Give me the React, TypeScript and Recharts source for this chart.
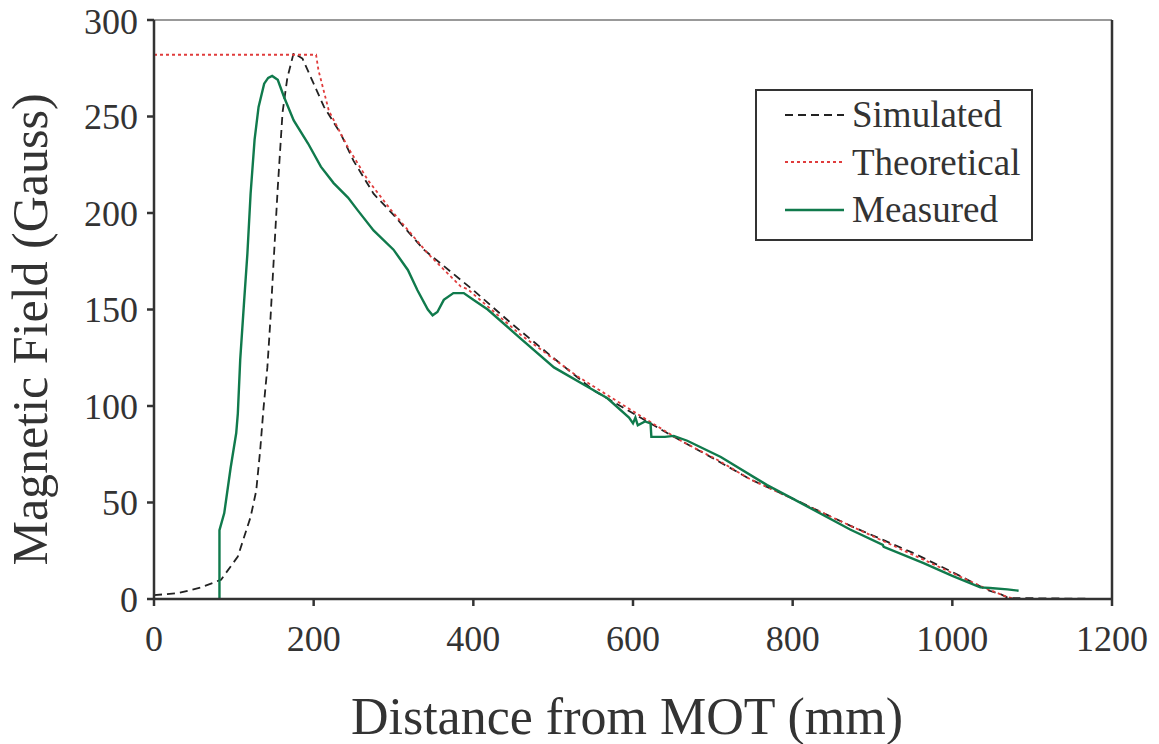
import React from "react";
import {
  LineChart,
  Line,
  XAxis,
  YAxis,
  Legend,
  ReferenceLine,
  Label,
} from "recharts";

// x (mm), field (Gauss)
const simulated: [number, number][] = [
  [0, 2], [30, 3], [59, 6], [84, 10], [105, 22], [121, 42.5], [128, 56],
  [133, 77], [137, 98], [142, 120], [146, 146], [150, 176], [155, 213],
  [161, 252], [167, 270], [175, 283], [186, 280], [200, 267], [213, 255],
  [234, 241], [250, 227], [275, 210], [300, 199], [338, 181], [400, 160],
  [447, 143], [500, 125], [551, 108], [626, 90], [660, 82], [700, 73],
  [747, 62], [800, 52], [872, 38], [950, 24], [1000, 14], [1044, 4.6],
  [1060, 2.6], [1070, 0.5], [1200, 0],
];

const theoretical: [number, number][] = [
  [0, 282], [203, 282], [206, 274], [219, 253], [243, 234], [268, 217],
  [297, 201.5], [343, 179], [384, 162], [393, 160.5], [459, 137],
  [530, 115.5], [605, 96], [660, 82], [706, 72], [747, 62], [768, 58],
  [872, 38], [997, 14], [1039, 6], [1069, 1], [1080, 0], [1200, 0],
];

const measured: [number, number][] = [
  [82, 0], [82, 35.7], [88, 44.5], [96, 68], [103, 86], [105, 96],
  [108, 124], [113, 155], [117, 179], [121, 210], [126, 238], [131, 255],
  [138, 267], [143, 270], [148, 271], [155, 269], [163, 260], [175, 248],
  [193, 236], [209, 224], [225, 215.5], [243, 208], [255, 201.5],
  [275, 191], [300, 181], [318, 170.5], [330, 160], [343, 150], [349, 147],
  [355, 148.7], [363, 155], [375, 158.5], [388, 158.5], [400, 155],
  [418, 150], [459, 135], [501, 120], [543, 110], [568, 104], [595, 94],
  [600, 91], [603, 94], [606, 90], [615, 92], [622, 91], [623, 84],
  [640, 84], [651, 84.5], [668, 82], [710, 73.6], [768, 59], [800, 52],
  [872, 36], [913, 28], [914, 27], [964, 18.6], [1000, 12], [1035, 6],
  [1047, 5.7], [1069, 5], [1083, 4.3],
];

const xTicks = [0, 200, 400, 600, 800, 1000, 1200];
const yTicks = [0, 50, 100, 150, 200, 250, 300];

const series = [
  { name: "Simulated", points: simulated, color: "#222", dash: "8 5", width: 1.8 },
  { name: "Theoretical", points: theoretical, color: "#e03c3c", dash: "3 3", width: 1.8 },
  { name: "Measured", points: measured, color: "#107a4c", dash: undefined, width: 2.4 },
];

const FONT = "'Liberation Serif', 'Times New Roman', serif";
const TEXT = "#333";

function LegendBox() {
  return (
    <div
      style={{
        border: "2.5px solid #333",
        width: 278,
        height: 152,
        boxSizing: "border-box",
        fontFamily: FONT,
        fontSize: 37,
        color: TEXT,
        paddingTop: 0,
      }}
    >
      {series.map((s) => (
        <div key={s.name} style={{ display: "flex", alignItems: "center", height: 47.5 }}>
          <svg width={95} height={10} style={{ flex: "none" }}>
            <line
              x1={28}
              x2={87}
              y1={5}
              y2={5}
              stroke={s.color}
              strokeWidth={s.width}
              strokeDasharray={s.dash}
            />
          </svg>
          <span style={{ lineHeight: 1 }}>{s.name}</span>
        </div>
      ))}
    </div>
  );
}

export default function App() {
  return (
    <div style={{ position: "absolute", left: 0, top: 0, background: "#fff" }}>
      <LineChart
        width={1159}
        height={744}
        margin={{ top: 20, right: 47, bottom: 0, left: 74 }}
      >
        <XAxis
          type="number"
          dataKey="x"
          domain={[0, 1200]}
          ticks={xTicks}
          allowDuplicatedCategory={false}
          height={145}
          stroke="#333"
          strokeWidth={2.5}
          tickSize={7}
          tickMargin={19}
          tick={{ fill: TEXT, fontSize: 36, fontFamily: FONT }}
        >
          <Label
            content={({ viewBox }: any) => (
              <text
                x={viewBox.x + viewBox.width / 2 - 6}
                y={viewBox.y + 135}
                textAnchor="middle"
                fill={TEXT}
                fontSize={52}
                fontFamily={FONT}
              >
                Distance from MOT (mm)
              </text>
            )}
          />
        </XAxis>
        <YAxis
          type="number"
          domain={[0, 300]}
          ticks={yTicks}
          width={80}
          stroke="#333"
          strokeWidth={2.5}
          tickSize={7}
          tickMargin={9}
          tick={{ fill: TEXT, fontSize: 36, fontFamily: FONT }}
        >
          <Label
            content={({ viewBox }: any) => {
              const cx = viewBox.x - 44;
              const cy = viewBox.y + viewBox.height / 2 + 20;
              return (
                <text
                  x={cx}
                  y={cy}
                  transform={`rotate(-90, ${cx}, ${cy})`}
                  textAnchor="middle"
                  dominantBaseline="central"
                  fill={TEXT}
                  fontSize={50}
                  fontFamily={FONT}
                >
                  Magnetic Field (Gauss)
                </text>
              );
            }}
          />
        </YAxis>
        <ReferenceLine y={300} stroke="#999" strokeWidth={2} />
        <ReferenceLine x={1200} stroke="#333" strokeWidth={2.5} />
        {series.map((s) => (
          <Line
            key={s.name}
            name={s.name}
            data={s.points.map(([x, y]) => ({ x, y }))}
            dataKey="y"
            type="linear"
            stroke={s.color}
            strokeWidth={s.width}
            strokeDasharray={s.dash}
            dot={false}
            isAnimationActive={false}
          />
        ))}
        <Legend
          layout="vertical"
          align="center"
          verticalAlign="middle"
          content={() => <LegendBox />}
          wrapperStyle={{ left: 755, top: 89, width: 278, height: 152 }}
        />
      </LineChart>
    </div>
  );
}
